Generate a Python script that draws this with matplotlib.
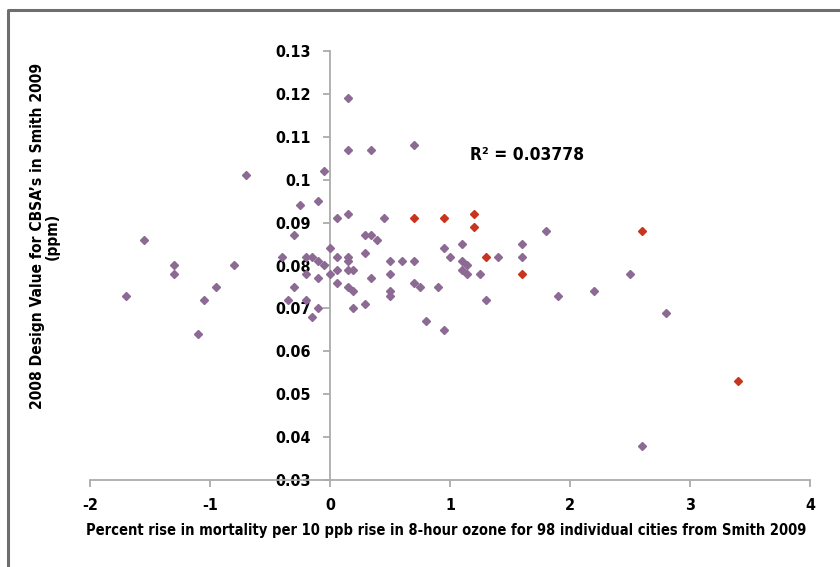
import matplotlib
matplotlib.use("Agg")
import matplotlib.pyplot as plt
from matplotlib.lines import Line2D

FONT = ['DejaVu Sans']
STRETCH = 'condensed'

purple_x = [-1.7, -1.55, -1.3, -1.3, -1.1, -1.05, -0.95, -0.8, -0.7,
            -0.4, -0.35, -0.3, -0.3, -0.25, -0.2, -0.2, -0.2, -0.15, -0.15,
            -0.1, -0.1, -0.1, -0.1, -0.05, -0.05, 0.0, 0.0,
            0.06, 0.06, 0.06, 0.06, 0.15, 0.15, 0.15, 0.15, 0.15, 0.15, 0.15,
            0.19, 0.19, 0.19, 0.29, 0.29, 0.29, 0.34, 0.34, 0.34, 0.39, 0.45,
            0.5, 0.5, 0.5, 0.5, 0.6, 0.7, 0.7, 0.7, 0.75, 0.8, 0.9, 0.95, 0.95,
            1.0, 1.1, 1.1, 1.1, 1.14, 1.14, 1.25, 1.3, 1.4, 1.6, 1.6, 1.8, 1.9,
            2.2, 2.5, 2.6, 2.8]
purple_y = [0.073, 0.086, 0.080, 0.078, 0.064, 0.072, 0.075, 0.080, 0.101,
            0.082, 0.072, 0.087, 0.075, 0.094, 0.082, 0.078, 0.072, 0.082, 0.068,
            0.095, 0.081, 0.077, 0.070, 0.102, 0.080, 0.084, 0.078,
            0.091, 0.082, 0.079, 0.076, 0.119, 0.107, 0.092, 0.082, 0.081, 0.079, 0.075,
            0.079, 0.074, 0.070, 0.087, 0.083, 0.071, 0.107, 0.087, 0.077, 0.086, 0.091,
            0.081, 0.078, 0.074, 0.073, 0.081, 0.108, 0.081, 0.076, 0.075, 0.067, 0.075, 0.084, 0.065,
            0.082, 0.085, 0.081, 0.079, 0.080, 0.078, 0.078, 0.072, 0.082, 0.085, 0.082, 0.088, 0.073,
            0.074, 0.078, 0.038, 0.069]

red_x = [0.7, 0.95, 1.2, 1.2, 1.3, 1.6, 2.6, 3.4]
red_y = [0.091, 0.091, 0.092, 0.089, 0.082, 0.078, 0.088, 0.053]

x_ticks = [-2, -1, 0, 1, 2, 3, 4]
y_ticks = [0.03, 0.04, 0.05, 0.06, 0.07, 0.08, 0.09, 0.1, 0.11, 0.12, 0.13]
y_tick_labels = ['0.03', '0.04', '0.05', '0.06', '0.07', '0.08', '0.09', '0.1', '0.11', '0.12', '0.13']

r2_text = 'R² = 0.03778'
x_label = 'Percent rise in mortality per 10 ppb rise in 8-hour ozone for 98 individual cities from Smith 2009'
y_label = "2008 Design Value for CBSA’s in Smith 2009\n(ppm)"

PURPLE = '#8C6A93'
RED = '#C8351F'
AXCOL = '#ABABAB'

fig = plt.figure(figsize=(8.4, 5.67), dpi=100)
ax = fig.add_axes([90/840, 1-480/567, 720/840, 429/567])

ax.plot(purple_x, purple_y, linestyle='none', marker='D', markersize=4.3,
        color=PURPLE, markeredgecolor=PURPLE, zorder=3)
ax.plot(red_x, red_y, linestyle='none', marker='D', markersize=4.3,
        color=RED, markeredgecolor=RED, zorder=3)

ax.set_xlim(-2, 4)
ax.set_ylim(0.03, 0.13)
ax.spines['left'].set_position(('data', 0))
ax.spines['top'].set_visible(False)
ax.spines['right'].set_visible(False)
for s in ('left', 'bottom'):
    ax.spines[s].set_color(AXCOL)
    ax.spines[s].set_linewidth(1.3)

ax.set_xticks(x_ticks)
ax.set_xticklabels([str(t) for t in x_ticks])
ax.set_yticks(y_ticks)
ax.set_yticklabels(y_tick_labels)
ax.tick_params(axis='both', direction='out', length=5, width=1.3, color=AXCOL,
               labelsize=11.5, pad=4)
ax.tick_params(axis='x', pad=8)
ax.tick_params(axis='y', pad=9)
for lbl in ax.get_xticklabels() + ax.get_yticklabels():
    lbl.set_fontfamily(FONT)
    lbl.set_fontweight('bold')
    lbl.set_fontstretch(STRETCH)

ax.text(1.17, 0.1058, r2_text, fontsize=12.5, fontweight='bold', family=FONT,
        fontstretch=STRETCH, ha='left', va='center')

fig.text(446/840, 1-531/567, x_label, fontsize=10.5, fontweight='bold', family=FONT,
         fontstretch=STRETCH, ha='center', va='center')
fig.text(45/840, 1-236/567, y_label, fontsize=11.2, fontweight='bold', family=FONT,
         fontstretch=STRETCH, ha='center', va='center', rotation=90,
         multialignment='center', linespacing=1.0)

fig.add_artist(Line2D([8/840, 8/840, 1.0], [0.0, 1-10/567, 1-10/567],
                      transform=fig.transFigure, color='#6E6E6E', linewidth=2.2))

fig.savefig('out.png', dpi=100)
